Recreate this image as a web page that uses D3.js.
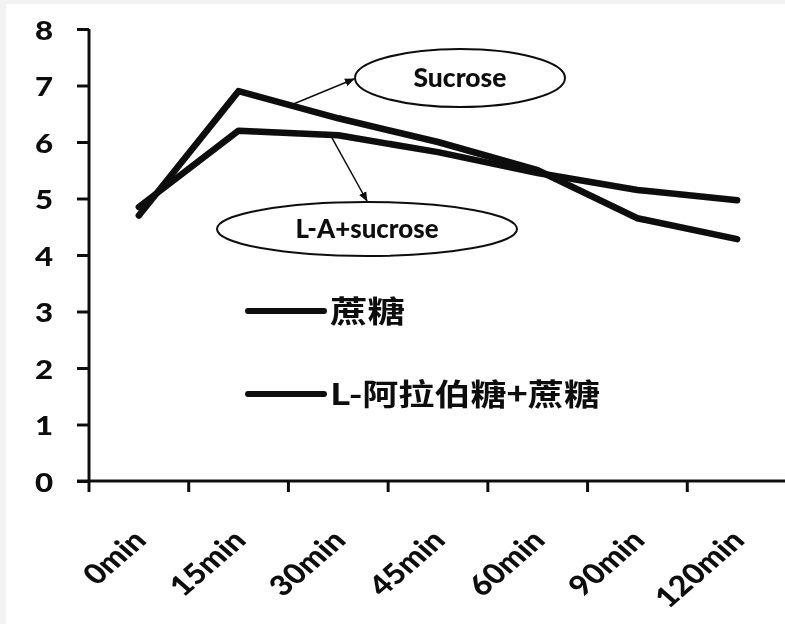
<!DOCTYPE html>
<html>
<head>
<meta charset="utf-8">
<script src="https://cdn.jsdelivr.net/npm/d3@7"></script>
<style>
  html, body { margin: 0; padding: 0; background: #f3f3f3; }
  svg { display: block; }
  text { font-family: Lato, "Open Sans", sans-serif; font-weight: 900; fill: #111; }
  .cjk { font-family: "Noto Sans CJK SC", sans-serif; font-weight: bold; }
</style>
</head>
<body>
<script>
// values
const categories = ["0min", "15min", "30min", "45min", "60min", "90min", "120min"];
const sucrose = [4.7, 6.9, 6.42, 6.0, 5.5, 4.65, 4.28];
const laSucrose = [4.85, 6.2, 6.12, 5.82, 5.45, 5.15, 4.97];
const yTicks = [0, 1, 2, 3, 4, 5, 6, 7, 8];
const legendNames = ["蔗糖", "L-阿拉伯糖+蔗糖"];
const calloutNames = ["Sucrose", "L-A+sucrose"];

const width = 785, height = 624;

const svg = d3.select("body").append("svg")
    .attr("width", width).attr("height", height);

// scan look: grey margin top/left, white paper
svg.append("rect").attr("x", 6).attr("y", 4)
    .attr("width", width - 6).attr("height", height - 4).attr("fill", "#fff");

const defs = svg.append("defs");
defs.append("filter").attr("id", "scan")
  .append("feGaussianBlur").attr("stdDeviation", 0.55);
defs.append("marker").attr("id", "head")
    .attr("viewBox", "0 0 10 10").attr("refX", 9).attr("refY", 5)
    .attr("markerWidth", 10).attr("markerHeight", 10)
    .attr("markerUnits", "userSpaceOnUse").attr("orient", "auto")
  .append("path").attr("d", "M0,1 L10,5 L0,9 Z").attr("fill", "#111");

const x = d3.scaleBand().domain(categories).range([89, 787]).padding(0);
const y = d3.scaleLinear().domain([0, 8]).range([481, 29]);
const cx = c => x(c) + x.bandwidth() / 2;

const g = svg.append("g").attr("filter", "url(#scan)");

// y axis
const gy = g.append("g").attr("transform", "translate(89,0)")
    .call(d3.axisLeft(y).tickValues(yTicks).tickSize(12).tickFormat(d3.format("d")));
gy.select(".domain").attr("stroke", "#111").attr("stroke-width", 3)
    .attr("d", `M0,${y(0)}V${y(8)}`);
gy.selectAll(".tick line").attr("stroke", "#111").attr("stroke-width", 3);
gy.selectAll(".tick text")
    .attr("x", 0).attr("dy", "0.36em")
    .attr("transform", "translate(-36,1) scale(1.2,1)")
    .style("font-size", "26px").attr("fill", "#111");

// x axis: labels at band centres, ticks at band edges
const gx = g.append("g").attr("transform", `translate(0,${y(0)})`)
    .call(d3.axisBottom(x).tickSize(0));
gx.select(".domain").remove();
gx.append("line").attr("x1", 77).attr("x2", width)
    .attr("stroke", "#111").attr("stroke-width", 3);
gx.selectAll(".edge").data(categories).join("line")
    .attr("class", "edge")
    .attr("x1", d => x(d)).attr("x2", d => x(d))
    .attr("y1", 0).attr("y2", 11)
    .attr("stroke", "#111").attr("stroke-width", 3);
gx.selectAll(".tick text")
    .attr("x", 0).attr("y", 0).attr("dy", 0)
    .attr("text-anchor", "end")
    .attr("transform", "translate(9,61) scale(1.15,1) rotate(-45)")
    .style("font-size", "28px").attr("fill", "#111");

// series lines
const line = d3.line().x((d, i) => cx(categories[i])).y(d => y(d));
[sucrose, laSucrose].forEach(s => {
  g.append("path").datum(s)
      .attr("d", line)
      .attr("fill", "none").attr("stroke", "#0a0a0a")
      .attr("stroke-width", 6.5)
      .attr("stroke-linejoin", "round").attr("stroke-linecap", "round");
});

// legend
const legendY = [311, 394];
legendNames.forEach((name, i) => {
  g.append("line").attr("x1", 248).attr("x2", 324)
      .attr("y1", legendY[i]).attr("y2", legendY[i])
      .attr("stroke", "#111").attr("stroke-width", 6)
      .attr("stroke-linecap", "round");
  g.append("text").attr("class", "cjk")
      .attr("x", 330).attr("y", legendY[i]).attr("dy", "0.36em")
      .attr("textLength", i === 0 ? 75 : 270)
      .attr("lengthAdjust", "spacingAndGlyphs")
      .style("font-size", "30px").text(name);
});

// callouts: ellipse labels with arrows from the lines
const callouts = [
  {name: calloutNames[0], cx: 460, cy: 78, rx: 105, ry: 29, tl: 93,
   from: [sucrose, 0.52], to: [354, 79]},
  {name: calloutNames[1], cx: 367, cy: 229, rx: 150, ry: 27, tl: 143,
   from: [laSucrose, 0.92], to: [367, 201]}
];
callouts.forEach(c => {
  g.append("ellipse").attr("cx", c.cx).attr("cy", c.cy)
      .attr("rx", c.rx).attr("ry", c.ry)
      .attr("fill", "none").attr("stroke", "#111").attr("stroke-width", 2);
  g.append("text").attr("x", c.cx).attr("y", c.cy).attr("dy", "0.36em")
      .attr("text-anchor", "middle")
      .attr("textLength", c.tl).attr("lengthAdjust", "spacingAndGlyphs")
      .style("font-size", "26px").text(c.name);
  // start point along the segment 15min -> 30min
  const [s, t] = c.from;
  const x0 = cx(categories[1]) + t * (cx(categories[2]) - cx(categories[1]));
  const y0 = y(s[1] + t * (s[2] - s[1]));
  g.append("line").attr("x1", x0).attr("y1", y0)
      .attr("x2", c.to[0]).attr("y2", c.to[1])
      .attr("stroke", "#111").attr("stroke-width", 1.5)
      .attr("marker-end", "url(#head)");
});
</script>
</body>
</html>
